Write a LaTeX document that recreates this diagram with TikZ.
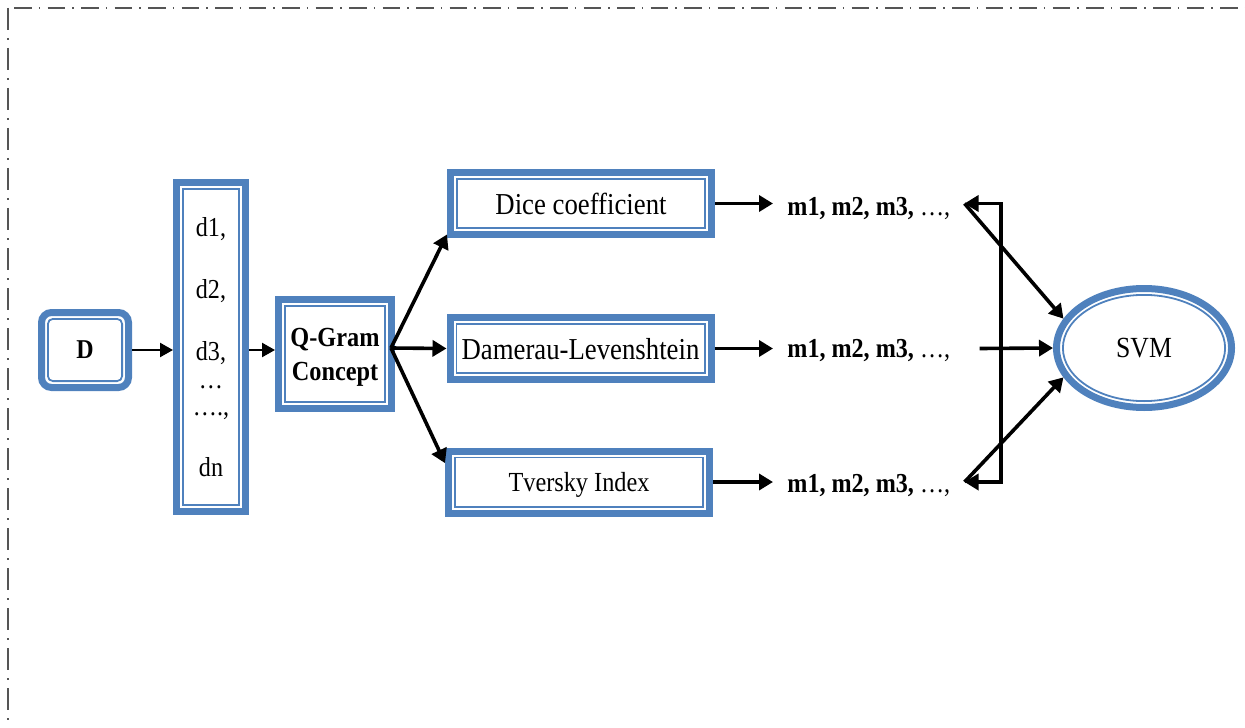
\documentclass[tikz,border=0pt]{standalone}
\usepackage{fontspec}
\setmainfont{Liberation Serif}[FakeStretch=0.88]
\usepackage{tikz}
\usetikzlibrary{arrows.meta,calc,shapes.geometric}
\definecolor{boxblue}{HTML}{4F81BD}
\definecolor{framegray}{HTML}{555555}

\begin{document}
\begin{tikzpicture}[
    x=0.5pt, y=-0.5pt,
    box/.style={draw=boxblue, line width=3.5pt, inner sep=2pt, text depth=0pt, align=center,
        path picture={\draw[boxblue, line width=0.9pt, sharp corners]
            ([shift={(3.2pt,-3.2pt)}]path picture bounding box.north west) rectangle
            ([shift={(-3.2pt,3.2pt)}]path picture bounding box.south east);}},
    roundbox/.style={box, rounded corners=5pt,
        path picture={\draw[boxblue, line width=0.9pt, rounded corners=2.5pt]
            ([shift={(3.2pt,-3.2pt)}]path picture bounding box.north west) rectangle
            ([shift={(-3.2pt,3.2pt)}]path picture bounding box.south east);}},
    oval/.style={ellipse, draw=boxblue, line width=3.5pt, inner sep=1pt, text depth=0pt,
        path picture={\draw[boxblue, line width=0.9pt]
            let \p1=($(path picture bounding box.north east)-(path picture bounding box.center)$) in
            (path picture bounding box.center) ellipse [x radius=\x1-3.2pt, y radius=\y1-3.2pt];}},
    measure/.style={anchor=base west, inner xsep=7pt, inner ysep=2pt, font=\fontsize{13.7}{16}\selectfont},
    arrow/.style={-{Triangle[length=7pt, width=8pt]}, line width=1.8pt},
    thinarrow/.style={-{Triangle[length=6.5pt, width=7pt]}, line width=1.2pt},
    twoarrow/.style={{Triangle[length=7pt, width=8pt]}-{Triangle[length=7pt, width=8pt]}, line width=1.8pt},
    frameh/.style={draw=framegray, line width=0.75pt, dash pattern=on 8.8pt off 3.6pt on 0.8pt off 3.55pt},
    framev/.style={draw=framegray, line width=0.75pt, dash pattern=on 10.8pt off 4.2pt on 0.8pt off 4.2pt},
]
    \useasboundingbox (0,0) rectangle (1245,727);

    % Frame
    \draw[framev] (8,8) -- (8,727);
    \draw[frameh] (14,8) -- (1245,8);

    % Input and q-grams
    \node[roundbox, minimum width=43.5pt, minimum height=37.5pt, font=\fontsize{13.6}{16}\selectfont\bfseries] (D) at (85,350) {D};
    \node[box, minimum width=34.5pt, minimum height=164pt, font=\fontsize{13.7}{14}\selectfont] (list) at (211,347)
        {d1,\\[17pt] d2,\\[17pt] d3,\\[0pt] …\\[-0.5pt] ….,\\[16.5pt] dn};
    \node[box, minimum width=56.5pt, minimum height=54.5pt, font=\fontsize{13.8}{17}\selectfont\bfseries] (qgram) at (335,354) {Q-Gram\\Concept};

    % Similarity measures
    \node[box, minimum width=130.5pt, minimum height=31pt, font=\fontsize{15.2}{18}\selectfont] (dice) at (581,203.5) {Dice coefficient};
    \node[box, minimum width=130.5pt, minimum height=31pt, font=\fontsize{15.2}{18}\selectfont] (damerau) at (580.5,348.5) {Damerau-Levenshtein};
    \node[box, minimum width=130.5pt, minimum height=31pt, font=\fontsize{13.8}{16}\selectfont] (tversky) at (579,482) {Tversky Index};

    % Feature values
    \node[measure] (mA) at (773,215) {\textbf{m1, m2, m3,} …,};
    \node[measure] (mB) at (773,357) {\textbf{m1, m2, m3,} …,};
    \node[measure] (mC) at (773,492) {\textbf{m1, m2, m3,} …,};

    % Classifier
    \node[oval, minimum width=87.5pt, minimum height=59.5pt, font=\fontsize{14.6}{17}\selectfont] (svm) at (1144,348) {SVM};

    % Connectors
    \coordinate (qout) at ([xshift=-2pt,yshift=3pt]qgram.east);
    \coordinate (brk) at (1001,345);
    \draw[thinarrow] (D.east) -- (D.east -| list.west);
    \draw[thinarrow] (list.east |- D.east) -- (qgram.west |- D.east);
    \draw[arrow] (qout) -- (dice.193);
    \draw[arrow] (qout) -- (damerau.west);
    \draw[arrow] (qout) -- (tversky.172);
    \draw[arrow] (dice.east) -- (dice.east -| mA.west);
    \draw[arrow] (damerau.east) -- (damerau.east -| mB.west);
    \draw[arrow] (tversky.east) -- (tversky.east -| mC.west);
    \draw[twoarrow] (dice.east -| mA.east) -| (brk) |- (tversky.east -| mC.east);
    \draw[arrow] (dice.east -| mA.east) -- (svm.160);
    \draw[arrow] ($(damerau.east -| mB.east)+(15,0)$) -- (svm.west);
    \draw[arrow] (tversky.east -| mC.east) -- (svm.200);
\end{tikzpicture}
\end{document}
